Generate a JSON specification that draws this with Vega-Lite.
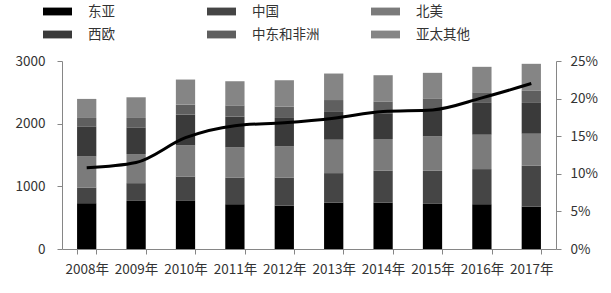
{
  "$schema": "https://vega.github.io/schema/vega-lite/v6.json",
  "width": 494,
  "height": 188,
  "autosize": "none",
  "padding": {"left": 62, "top": 61, "right": 55, "bottom": 44},
  "background": "white",
  "config": {
    "view": {"stroke": null},
    "font": "Noto Sans CJK SC",
    "axis": {"labelFont": "Noto Sans CJK SC", "labelFontSize": 13.5, "labelColor": "#333333", "domainColor": "#868686", "tickColor": "#868686", "tickSize": 5, "grid": false, "title": null}
  },
  "datasets": {
    "bars": [
      {"year": "2008年", "region": "东亚", "k": 1, "value": 731},
      {"year": "2008年", "region": "中国", "k": 2, "value": 250},
      {"year": "2008年", "region": "北美", "k": 3, "value": 496},
      {"year": "2008年", "region": "西欧", "k": 4, "value": 480},
      {"year": "2008年", "region": "中东和非洲", "k": 5, "value": 134},
      {"year": "2008年", "region": "亚太其他", "k": 6, "value": 304},
      {"year": "2009年", "region": "东亚", "k": 1, "value": 768},
      {"year": "2009年", "region": "中国", "k": 2, "value": 283},
      {"year": "2009年", "region": "北美", "k": 3, "value": 464},
      {"year": "2009年", "region": "西欧", "k": 4, "value": 426},
      {"year": "2009年", "region": "中东和非洲", "k": 5, "value": 150},
      {"year": "2009年", "region": "亚太其他", "k": 6, "value": 330},
      {"year": "2010年", "region": "东亚", "k": 1, "value": 768},
      {"year": "2010年", "region": "中国", "k": 2, "value": 389},
      {"year": "2010年", "region": "北美", "k": 3, "value": 496},
      {"year": "2010年", "region": "西欧", "k": 4, "value": 491},
      {"year": "2010年", "region": "中东和非洲", "k": 5, "value": 160},
      {"year": "2010年", "region": "亚太其他", "k": 6, "value": 400},
      {"year": "2011年", "region": "东亚", "k": 1, "value": 715},
      {"year": "2011年", "region": "中国", "k": 2, "value": 426},
      {"year": "2011年", "region": "北美", "k": 3, "value": 480},
      {"year": "2011年", "region": "西欧", "k": 4, "value": 491},
      {"year": "2011年", "region": "中东和非洲", "k": 5, "value": 180},
      {"year": "2011年", "region": "亚太其他", "k": 6, "value": 385},
      {"year": "2012年", "region": "东亚", "k": 1, "value": 693},
      {"year": "2012年", "region": "中国", "k": 2, "value": 448},
      {"year": "2012年", "region": "北美", "k": 3, "value": 496},
      {"year": "2012年", "region": "西欧", "k": 4, "value": 454},
      {"year": "2012年", "region": "中东和非洲", "k": 5, "value": 180},
      {"year": "2012年", "region": "亚太其他", "k": 6, "value": 422},
      {"year": "2013年", "region": "东亚", "k": 1, "value": 741},
      {"year": "2013年", "region": "中国", "k": 2, "value": 470},
      {"year": "2013年", "region": "北美", "k": 3, "value": 533},
      {"year": "2013年", "region": "西欧", "k": 4, "value": 443},
      {"year": "2013年", "region": "中东和非洲", "k": 5, "value": 190},
      {"year": "2013年", "region": "亚太其他", "k": 6, "value": 423},
      {"year": "2014年", "region": "东亚", "k": 1, "value": 741},
      {"year": "2014年", "region": "中国", "k": 2, "value": 507},
      {"year": "2014年", "region": "北美", "k": 3, "value": 507},
      {"year": "2014年", "region": "西欧", "k": 4, "value": 400},
      {"year": "2014年", "region": "中东和非洲", "k": 5, "value": 200},
      {"year": "2014年", "region": "亚太其他", "k": 6, "value": 418},
      {"year": "2015年", "region": "东亚", "k": 1, "value": 720},
      {"year": "2015年", "region": "中国", "k": 2, "value": 528},
      {"year": "2015年", "region": "北美", "k": 3, "value": 549},
      {"year": "2015年", "region": "西欧", "k": 4, "value": 427},
      {"year": "2015年", "region": "中东和非洲", "k": 5, "value": 180},
      {"year": "2015年", "region": "亚太其他", "k": 6, "value": 407},
      {"year": "2016年", "region": "东亚", "k": 1, "value": 715},
      {"year": "2016年", "region": "中国", "k": 2, "value": 560},
      {"year": "2016年", "region": "北美", "k": 3, "value": 549},
      {"year": "2016年", "region": "西欧", "k": 4, "value": 507},
      {"year": "2016年", "region": "中东和非洲", "k": 5, "value": 170},
      {"year": "2016年", "region": "亚太其他", "k": 6, "value": 406},
      {"year": "2017年", "region": "东亚", "k": 1, "value": 677},
      {"year": "2017年", "region": "中国", "k": 2, "value": 651},
      {"year": "2017年", "region": "北美", "k": 3, "value": 512},
      {"year": "2017年", "region": "西欧", "k": 4, "value": 491},
      {"year": "2017年", "region": "中东和非洲", "k": 5, "value": 200},
      {"year": "2017年", "region": "亚太其他", "k": 6, "value": 424}
    ],
    "ratio": [
      {"year": "2008年", "share": 0.108},
      {"year": "2009年", "share": 0.115},
      {"year": "2010年", "share": 0.148},
      {"year": "2011年", "share": 0.164},
      {"year": "2012年", "share": 0.168},
      {"year": "2013年", "share": 0.174},
      {"year": "2014年", "share": 0.183},
      {"year": "2015年", "share": 0.185},
      {"year": "2016年", "share": 0.201},
      {"year": "2017年", "share": 0.220}
    ]
  },
  "encoding": {
    "x": {
      "field": "year", "type": "nominal", "sort": null,
      "scale": {"paddingInner": 0.61, "paddingOuter": 0.305},
      "axis": {"labelAngle": 0, "tickBand": "extent", "labelPadding": 8}
    }
  },
  "layer": [
    {
      "data": {"name": "bars"},
      "mark": {"type": "bar"},
      "encoding": {
        "y": {
          "field": "value", "type": "quantitative", "stack": "zero",
          "scale": {"domain": [0, 3000], "nice": false},
          "axis": {"values": [0, 1000, 2000, 3000], "format": "d", "labelPadding": 12, "orient": "left"}
        },
        "color": {
          "field": "region", "type": "nominal",
          "scale": {
            "domain": ["东亚", "中国", "北美", "西欧", "中东和非洲", "亚太其他"],
            "range": ["#000000", "#454545", "#7b7b7b", "#3a3a3a", "#5f5f5f", "#858585"]
          },
          "legend": {
            "title": null,
            "orient": "none",
            "legendX": -19,
            "legendY": -64,
            "direction": "horizontal",
            "columns": 3,
            "gridAlign": "all",
            "columnPadding": 51,
            "rowPadding": 2,
            "padding": 0,
            "symbolType": "M-1,-0.27H1V0.27H-1Z",
            "symbolSize": 841,
            "symbolStrokeWidth": 0,
            "labelOffset": 16,
            "labelFont": "Noto Sans CJK SC",
            "labelFontSize": 13.5,
            "labelColor": "#333333",
            "labelLimit": 200
          }
        },
        "order": {"field": "k", "type": "quantitative"}
      }
    },
    {
      "data": {"name": "ratio"},
      "mark": {"type": "line", "color": "#000000", "strokeWidth": 3, "interpolate": "monotone"},
      "encoding": {
        "y": {
          "field": "share", "type": "quantitative",
          "scale": {"domain": [0, 0.25], "nice": false},
          "axis": {"orient": "right", "values": [0, 0.05, 0.1, 0.15, 0.2, 0.25], "format": ".0%", "labelPadding": 9}
        }
      }
    }
  ],
  "resolve": {"scale": {"y": "independent"}}
}
